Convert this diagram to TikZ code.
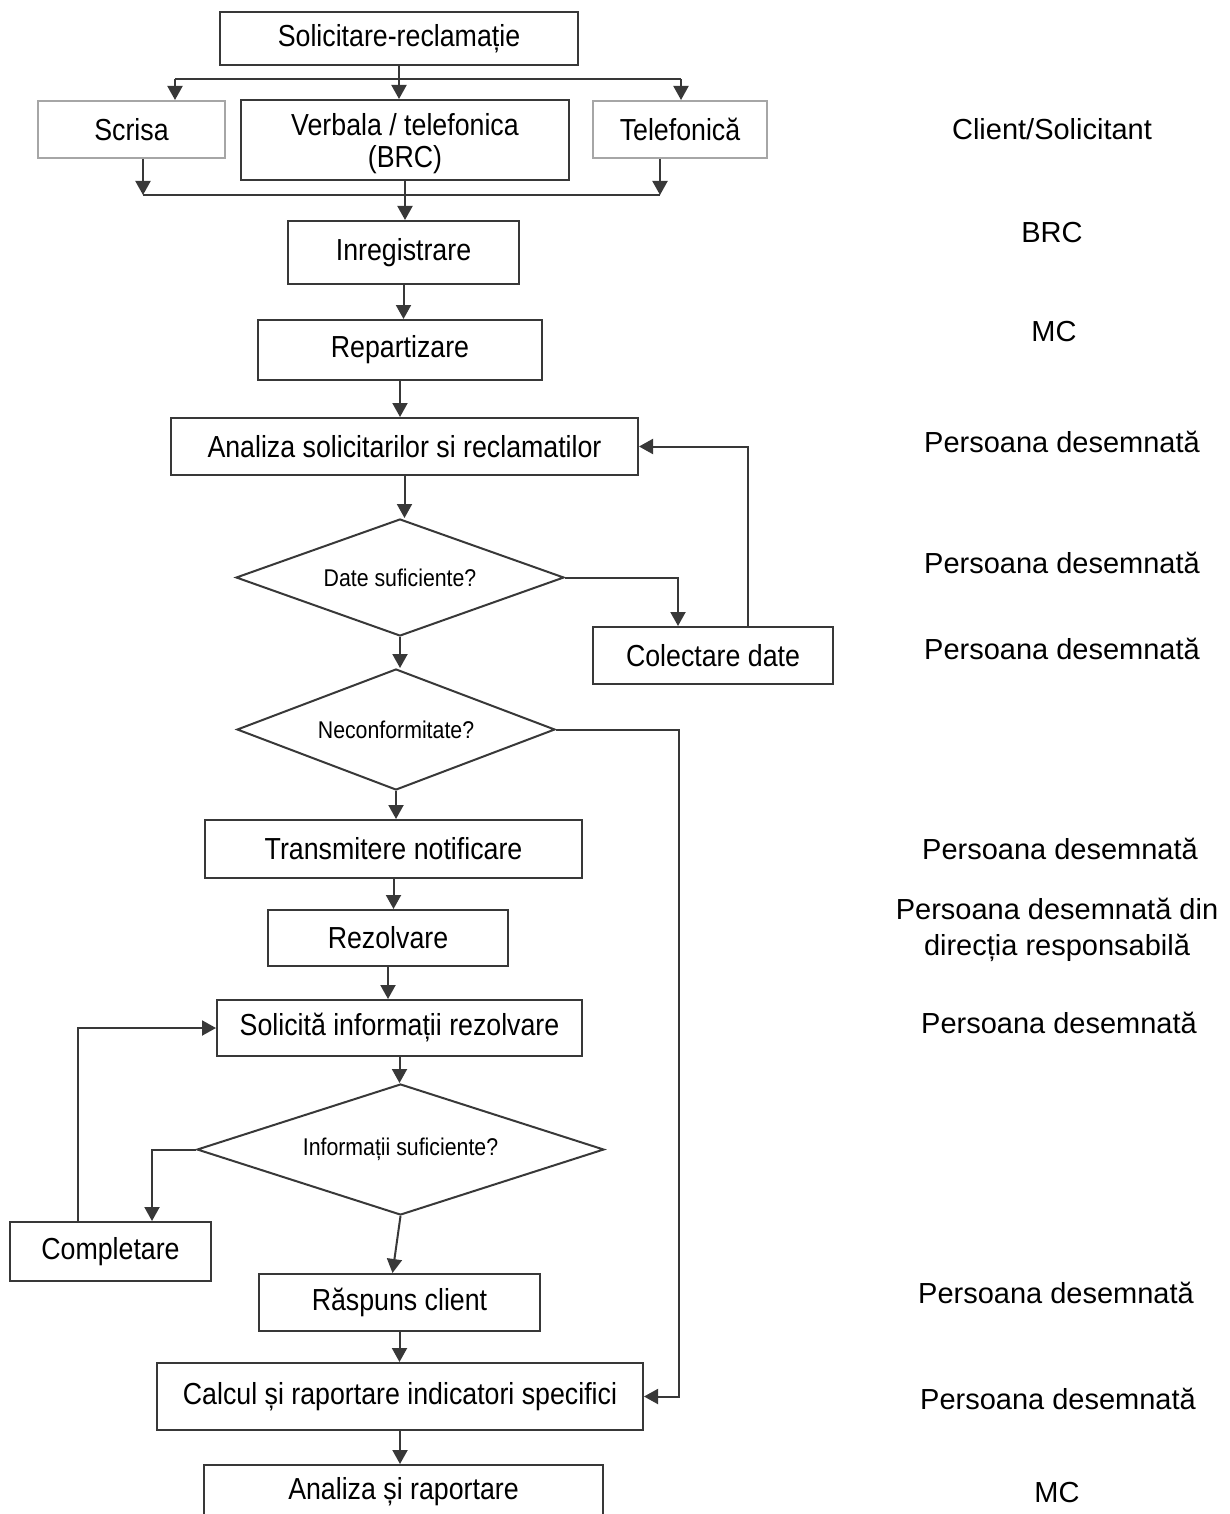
\documentclass[tikz,border=0pt]{standalone}
\usepackage{fontspec}
\setmainfont{Liberation Sans}
\newfontfamily\boxfont[FakeStretch=0.88]{Liberation Sans}
\usepackage{tikz}
\usetikzlibrary{positioning}
\usetikzlibrary{arrows.meta,shapes}
\usetikzlibrary{calc}
\definecolor{linegray}{gray}{0.22}
\tikzstyle{procbox}=[rectangle,draw=linegray,line width=1pt,inner sep=0pt,align=center,font=\boxfont\fontsize{15.2pt}{16pt}\selectfont]
\tikzstyle{lightbox}=[procbox,draw=black!35]
\tikzstyle{decision}=[diamond,draw=linegray,line width=1pt,inner sep=0pt,aspect=2.8,font=\boxfont\fontsize{12.1pt}{14pt}\selectfont]
\tikzstyle{edge} = [draw,line width=1pt,linegray,-{Triangle[length=7pt,width=7.5pt]}]
\tikzstyle{undirectededge} = [draw,line width=1pt,linegray]
\tikzstyle{role} = [font=\fontsize{14.5pt}{18pt}\selectfont,align=center,inner sep=0pt]

\begin{document}
\begin{tikzpicture}[x=0.5pt,y=-0.5pt]
    \useasboundingbox (0,0) rectangle (1230,1514);
    % First we draw the boxes
    \node[procbox,minimum width=179pt,minimum height=26.5pt] (request) at (399,38.5) {Solicitare-reclamație};
    \node[lightbox,minimum width=93.5pt,minimum height=28.5pt] (scrisa) at (131.5,129.5) {Scrisa};
    \node[procbox,minimum width=164pt,minimum height=40pt,text depth=-3pt] (verbala) at (405,140) {Verbala / telefonica\\(BRC)};
    \node[lightbox,minimum width=87pt,minimum height=28.5pt] (telef) at (680,129.5) {Telefonică};
    \node[procbox,minimum width=115.5pt,minimum height=31.5pt] (inreg) at (403.5,252.5) {Inregistrare};
    \node[procbox,minimum width=142pt,minimum height=30pt] (repart) at (400,350) {Repartizare};
    \node[procbox,minimum width=233.5pt,minimum height=28.5pt] (analiza) at (404.5,446.5) {Analiza solicitarilor si reclamatilor};
    \node[decision,minimum width=164pt,minimum height=58.5pt] (datesuf) at (400,577.5) {Date suficiente?};
    \node[procbox,minimum width=120pt,minimum height=28.5pt] (colect) at (713,655.5) {Colectare date};
    \node[decision,minimum width=159pt,minimum height=60.5pt] (neconf) at (396,729.5) {Neconformitate?};
    \node[procbox,minimum width=188.5pt,minimum height=29pt] (transm) at (393.5,849) {Transmitere notificare};
    \node[procbox,minimum width=120pt,minimum height=28pt] (rezolv) at (388,938) {Rezolvare};
    \node[procbox,minimum width=182.5pt,minimum height=28pt] (solicita) at (399.5,1028) {Solicită informații rezolvare};
    \node[decision,minimum width=203.5pt,minimum height=65.5pt] (infosuf) at (400.5,1149.5) {Informații suficiente?};
    \node[procbox,minimum width=100.5pt,minimum height=29.5pt] (complet) at (110.5,1251.5) {Completare};
    \node[procbox,minimum width=140.5pt,minimum height=28.5pt] (raspuns) at (399.5,1302.5) {Răspuns client};
    \node[procbox,minimum width=243pt,minimum height=33.5pt] (calcul) at (400,1396.5) {Calcul și raportare indicatori specifici};
    \node[procbox,minimum width=199.5pt,minimum height=27pt] (analizarap) at (403.5,1492) {Analiza și raportare};

    % Then the roles on the right
    \node[role] (roleClient) at (1052,129) {Client/Solicitant};
    \node[role] (roleBRC) at (1052,233) {BRC};
    \node[role] (roleMC) at (1054,332) {MC};
    \foreach \pos/\name in {{(1062,442)/roleAnaliza}, {(1062,563)/roleDate}, {(1062,649)/roleColectare}, {(1060,849)/roleTransmitere}, {(1059,1023)/roleSolicita}, {(1056,1293)/roleRaspuns}, {(1058,1399)/roleCalcul}}
        \node[role] (\name) at \pos {Persoana desemnată};
    \node[role] (roleRezolvare) at (1057,930) {Persoana desemnată din\\direcția responsabilă};
    \node[role] (roleMCfinal) at (1057,1492) {MC};

    % Main flow, straight down
    \foreach \source/ \dest in {request/verbala, verbala/inreg, inreg/repart, repart/analiza, analiza/datesuf, datesuf/neconf, neconf/transm, transm/rezolv, rezolv/solicita, solicita/infosuf, raspuns/calcul, calcul/analizarap}
        \path[edge] (\source.south) -- (\source.south |- \dest.north);
    \path[edge] (infosuf.south) -- ([xshift=-3.5pt]raspuns.north);

    % Split and merge of the three channels
    \coordinate (splitL) at (175,79);
    \coordinate (splitR) at (681,79);
    \path[undirectededge] (splitL) -- (splitR);
    \path[edge] (splitL) -- (splitL |- scrisa.north);
    \path[edge] (splitR) -- (splitR |- telef.north);
    \coordinate (mergeL) at (143,195);
    \coordinate (mergeR) at (660,195);
    \path[edge] (mergeL |- scrisa.south) -- (mergeL);
    \path[edge] (mergeR |- telef.south) -- (mergeR);
    \path[undirectededge] (mergeL) -- (mergeR);

    % Loops and bypass
    \path[edge] (datesuf.east) -| ($(colect.north)+(-35,0)$);
    \path[edge] ($(colect.north)+(35,0)$) |- (analiza.east);
    \coordinate (bypass) at (679,1000);
    \path[edge] (neconf.east) -| (bypass) |- (calcul.east);
    \path[edge] (infosuf.west) -| ($(complet.north)+(41.5,0)$);
    \path[edge] ($(complet.north)+(-32.5,0)$) |- (solicita.west);
\end{tikzpicture}
\end{document}
